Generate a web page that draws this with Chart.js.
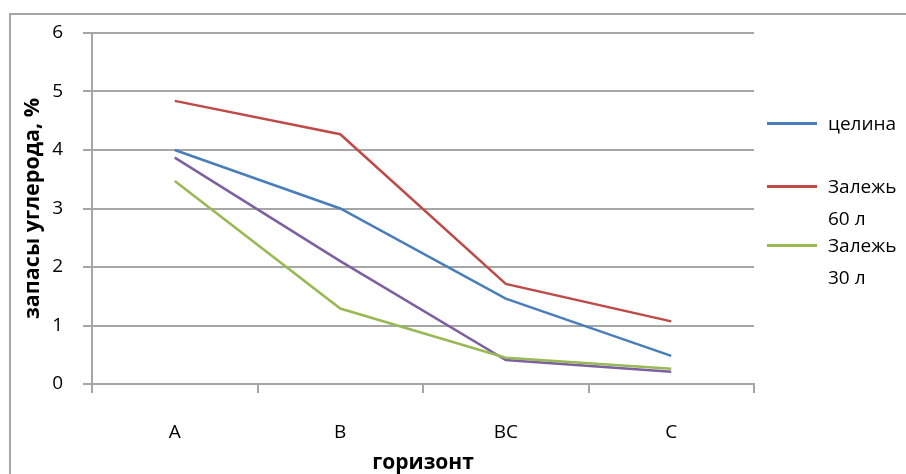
<!DOCTYPE html>
<html><head><meta charset="utf-8">
<script src="https://cdn.jsdelivr.net/npm/chart.js@4/dist/chart.umd.min.js"></script>
<style>
html,body{margin:0;padding:0;width:906px;height:474px;overflow:hidden;background:#fff;}
#frame{position:absolute;left:9px;top:13px;width:1000px;height:1000px;border:2px solid #a6a6a6;box-sizing:border-box;}
#c{position:absolute;left:0;top:0;}
.leg{position:absolute;left:767px;width:200px;font-family:'Open Sans',sans-serif;font-size:19px;line-height:32px;color:#000;}
.leg .sw{position:absolute;left:0;width:50px;height:3px;top:14.5px;}
.leg .tx{position:absolute;left:61px;width:85px;white-space:normal;}
</style></head>
<body>
<div id="frame"></div>
<canvas id="c" width="906" height="474"></canvas>
<div id="legend"></div>
<script>
const categories = ['A', 'B', 'BC', 'C'];
const celina    = [4.00, 3.00, 1.46, 0.48];
const zalezh60  = [4.84, 4.27, 1.71, 1.07];
const zalezh30  = [3.47, 1.29, 0.45, 0.26];
const series4   = [3.87, 2.10, 0.41, 0.21];
const seriesNames = ['целина', 'Залежь 60 л', 'Залежь 30 л', ''];
const seriesColors = ['#4A7EBB', '#BE4B48', '#98B954', '#7D60A0'];
const yTicks = [0, 1, 2, 3, 4, 5, 6];
const xTitle = 'горизонт';
const yTitle = 'запасы углерода, %';

const FONT = "'Open Sans', sans-serif";
const GRID = '#a6a6a6';
const values = [celina, zalezh60, zalezh30, series4];

const datasets = values.map((v, i) => ({
  label: seriesNames[i],
  data: v,
  borderColor: seriesColors[i],
  backgroundColor: seriesColors[i],
  borderWidth: 2.5,
  pointRadius: 0,
  pointHoverRadius: 0,
  tension: 0,
  fill: false
}));

const chart = new Chart(document.getElementById('c'), {
  type: 'line',
  data: { labels: categories, datasets },
  options: {
    responsive: false,
    animation: false,
    events: [],
    layout: { padding: { left: 0, top: 33, right: 906 - 754, bottom: 0 } },
    plugins: { legend: { display: false }, tooltip: { enabled: false } },
    scales: {
      x: {
        type: 'category',
        offset: true,
        grid: { offset: true, drawOnChartArea: false, drawTicks: true, tickLength: 9, color: GRID, lineWidth: 2 },
        border: { color: GRID, width: 2 },
        ticks: { color: '#000', font: { family: FONT, size: 19 }, padding: 28, maxRotation: 0 },
        title: { display: true, text: xTitle, color: '#000', font: { family: FONT, size: 21, weight: 'bold', lineHeight: 1 }, padding: { top: 0, bottom: 0 } },
        afterFit: s => { s.height = 474 - 384; }
      },
      y: {
        min: 0, max: 6,
        afterBuildTicks: s => { s.ticks = yTicks.map(v => ({ value: v })); },
        grid: { color: GRID, lineWidth: 2, tickLength: 9, drawTicks: true },
        border: { color: GRID, width: 2 },
        ticks: { color: '#000', font: { family: FONT, size: 19 }, padding: 20 },
        title: { display: true, text: yTitle, color: '#000', font: { family: FONT, size: 21.5, weight: 'bold', lineHeight: 1 }, padding: { top: 22, bottom: 0 } },
        afterFit: s => { s.width = 92; }
      }
    }
  }
});

// HTML legend built from the chart's datasets (first three entries shown, as in the reference)
const legendTops = [107, 170, 229];
const legendEl = document.getElementById('legend');
chart.data.datasets.slice(0, 3).forEach((ds, i) => {
  const item = document.createElement('div');
  item.className = 'leg';
  item.style.top = legendTops[i] + 'px';
  const sw = document.createElement('div');
  sw.className = 'sw';
  sw.style.background = ds.borderColor;
  const tx = document.createElement('div');
  tx.className = 'tx';
  tx.textContent = ds.label;
  item.appendChild(sw);
  item.appendChild(tx);
  legendEl.appendChild(item);
});
</script>
</body></html>
